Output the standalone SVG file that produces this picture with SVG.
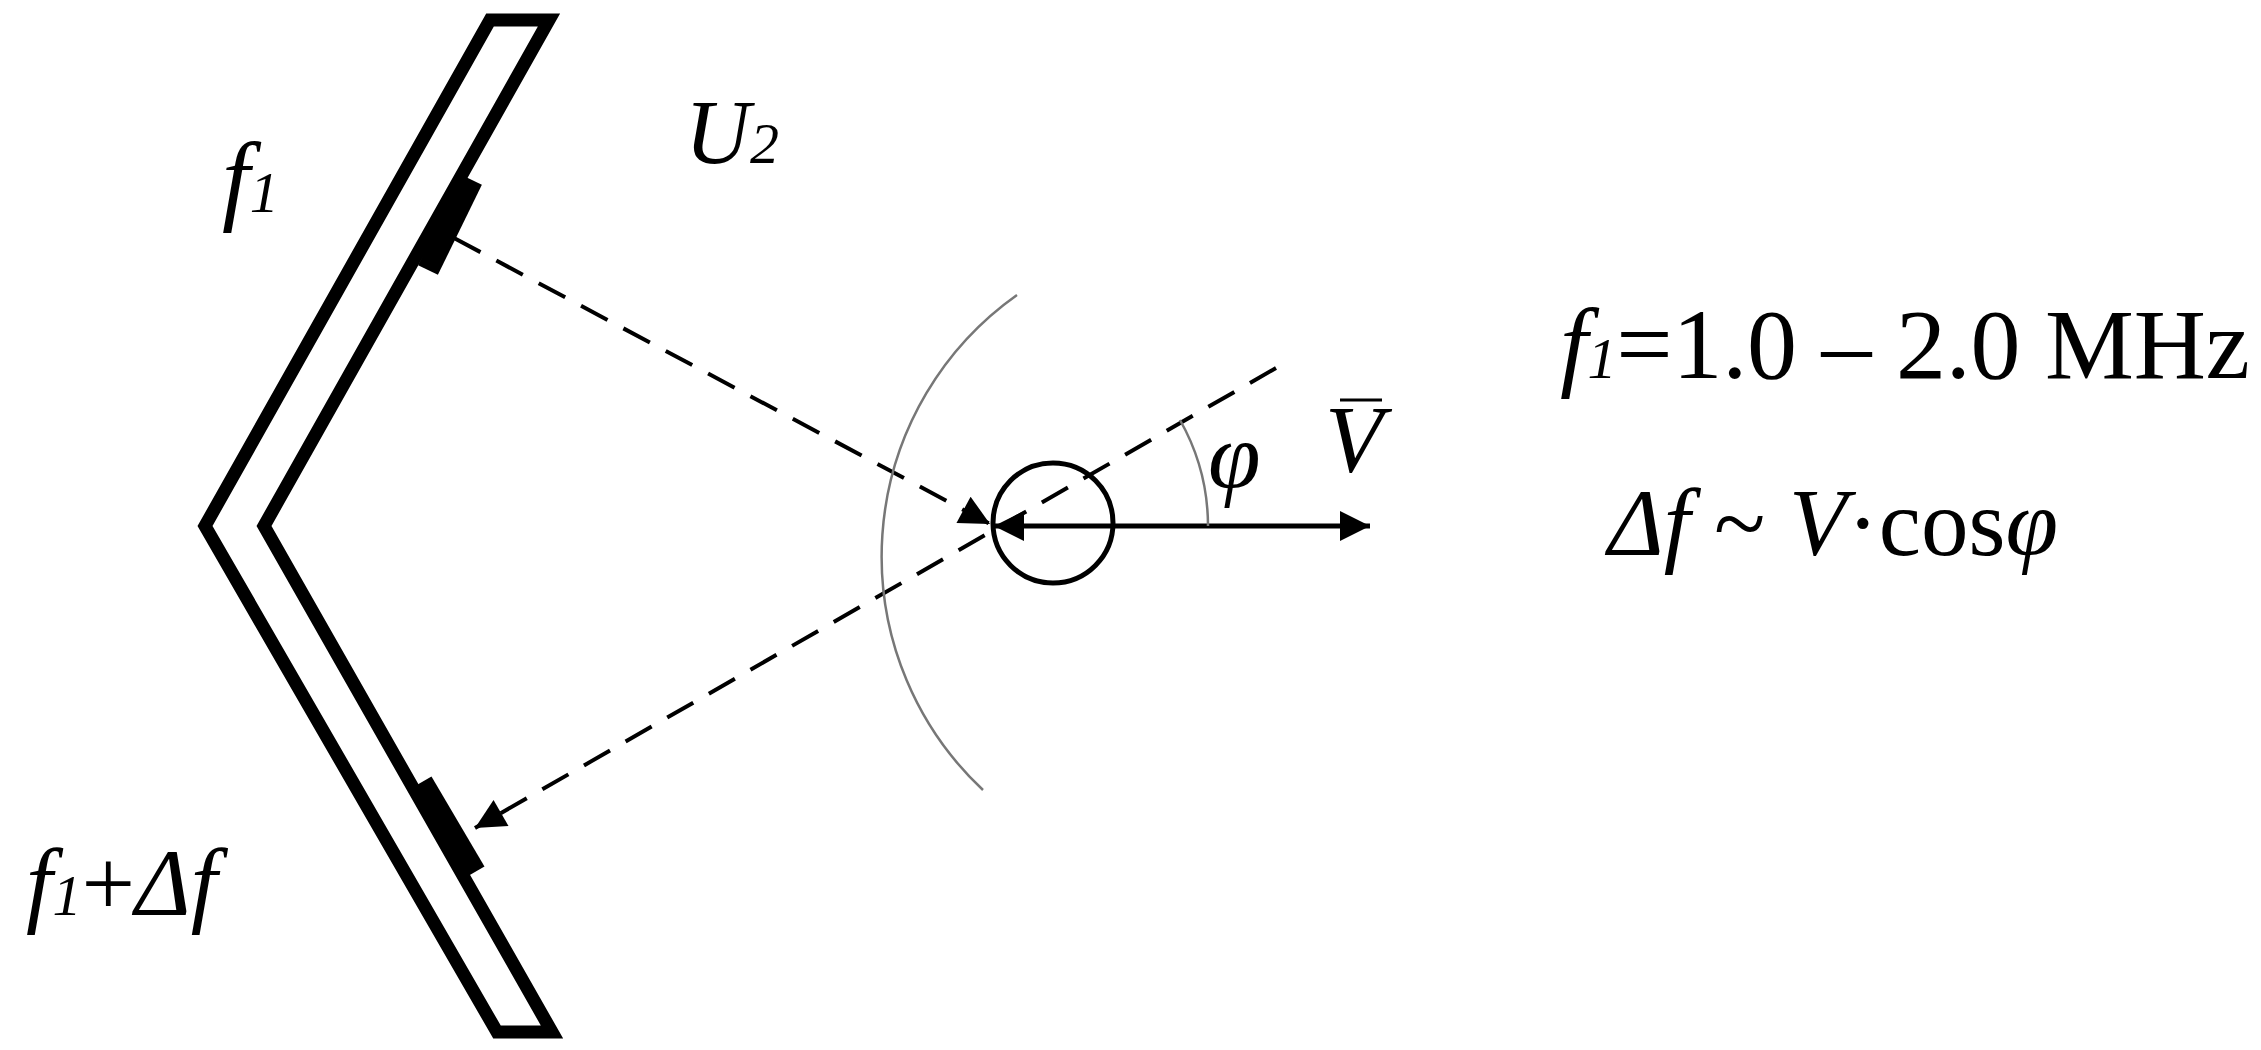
<svg xmlns="http://www.w3.org/2000/svg" width="2261" height="1050" viewBox="0 0 2261 1050">
<style>
.t{font-family:"Liberation Serif","Times New Roman","Nimbus Roman",serif;fill:#000}
.i{font-style:italic}
.dash{stroke:#000;stroke-width:4;stroke-dasharray:30 18;fill:none}
.gray{stroke:#777;stroke-width:2.5;fill:none}
</style>
<defs>
<marker id="ah" viewBox="0 0 10 10" refX="10" refY="5" markerWidth="40" markerHeight="30" markerUnits="userSpaceOnUse" orient="auto"><path d="M0,0 L10,5 L0,10 z" fill="#000"/></marker>
</defs>
<rect width="2261" height="1050" fill="#fff"/>
<g id="plate">
<polygon points="490,20 549,20 264,526 552,1032 497,1032 205,526" fill="none" stroke="#000" stroke-width="13" stroke-linejoin="miter"/>
</g>
<g id="transducer1"><line x1="428" y1="270" x2="472" y2="180" stroke="#000" stroke-width="22"/></g>
<g id="transducer2"><line x1="422" y1="782" x2="475" y2="872" stroke="#000" stroke-width="22"/></g>
<g id="particle"><circle cx="1053" cy="523" r="60" fill="none" stroke="#000" stroke-width="5"/></g>
<g id="connectors">
<line class="dash" x1="454" y1="238" x2="990" y2="524" marker-end="url(#ah)"/>
<line class="dash" x1="1276" y1="368" x2="475" y2="828" marker-end="url(#ah)"/>
<line x1="1053" y1="526" x2="994" y2="526" stroke="#000" stroke-width="5" marker-end="url(#ah)"/>
<line x1="1053" y1="526" x2="1370" y2="526" stroke="#000" stroke-width="5" marker-end="url(#ah)"/>
<path class="gray" d="M1208,526 A216,216 0 0 0 1180,420"/>
<path class="gray" d="M1017,295 A320,320 0 0 0 983,790"/>
</g>
<g id="labels">
<text class="t i" x="222" y="212" font-size="100">f<tspan font-size="58">1</tspan></text>
<text class="t i" x="685" y="163" font-size="90">U<tspan font-size="58">2</tspan></text>
<text class="t" x="1560" y="378" font-size="100" textLength="690" lengthAdjust="spacing"><tspan class="i">f</tspan><tspan class="i" font-size="58">1</tspan>=1.0 – 2.0 MHz</text>
<text class="t" x="1608" y="555" font-size="95"><tspan class="i">Δf</tspan> ~ <tspan class="i">V</tspan>·cos<tspan class="i">φ</tspan></text>
<text class="t i" x="1208" y="488" font-size="95">φ</text>
<text class="t i" x="1325" y="472" font-size="95">V</text>
<line x1="1340" y1="400" x2="1382" y2="400" stroke="#000" stroke-width="3"/>
<text class="t i" x="26" y="915" font-size="95">f<tspan font-size="58">1</tspan><tspan font-style="normal">+</tspan>Δf</text>
</g>
</svg>
